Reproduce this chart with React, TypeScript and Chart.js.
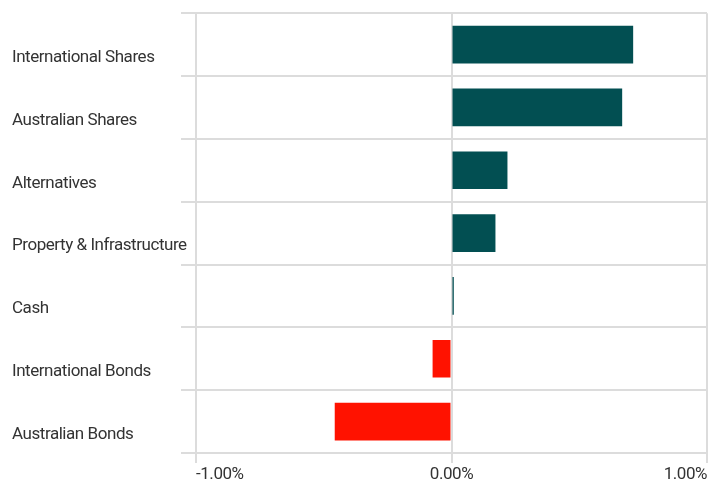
import React, { useEffect, useRef } from "react";
import { Chart, registerables } from "chart.js";

Chart.register(...registerables);

const categories = [
  "International Shares",
  "Australian Shares",
  "Alternatives",
  "Property & Infrastructure",
  "Cash",
  "International Bonds",
  "Australian Bonds",
];
const values = [0.711, 0.668, 0.219, 0.172, 0.009, -0.074, -0.457];
const xTicks = [-1, 0, 1];

const POS = "#024f52";
const NEG = "#ff1200";
const GRID = "#dcdcdc";
const FONT = "Roboto, 'Noto Sans', sans-serif";

const condense = {
  id: "condense",
  beforeDraw(chart: any) {
    chart.ctx.letterSpacing = "-0.45px";
  },
};

export default function App() {
  const ref = useRef<HTMLCanvasElement | null>(null);
  useEffect(() => {
    if (!ref.current) return;
    const chart = new Chart(ref.current, {
      type: "bar",
      data: {
        labels: categories,
        datasets: [
          {
            data: values,
            backgroundColor: values.map((v) => (v >= 0 ? POS : NEG)),
            barPercentage: 0.6,
            categoryPercentage: 1,
          },
        ],
      },
      plugins: [condense],
      options: {
        indexAxis: "y",
        animation: false,
        responsive: true,
        maintainAspectRatio: false,
        layout: { padding: { left: 12, right: 1, top: 12, bottom: 0 } },
        plugins: { legend: { display: false }, tooltip: { enabled: false } },
        scales: {
          x: {
            min: -1,
            max: 1,
            afterBuildTicks: (s: any) => {
              s.ticks = xTicks.map((v) => ({ value: v }));
            },
            afterFit: (s: any) => {
              s.height = 33;
            },
            grid: { color: GRID, lineWidth: 2, tickLength: 10 },
            border: { color: GRID, width: 2 },
            ticks: {
              align: "inner",
              color: "#333",
              padding: 2,
              font: { family: FONT, size: 17 },
              callback: (v: any) => Number(v).toFixed(2) + "%",
            },
          },
          y: {
            afterFit: (s: any) => {
              s.width = 184;
            },
            grid: { color: GRID, lineWidth: 2, tickLength: 15, offset: true },
            border: { color: GRID, width: 2 },
            ticks: {
              crossAlign: "far",
              labelOffset: 13,
              color: "#333",
              font: { family: FONT, size: 17 },
            },
          },
        },
      },
    });
    return () => chart.destroy();
  }, []);
  return (
    <div style={{ position: "absolute", left: 0, top: 0, width: 709, height: 486 }}>
      <canvas ref={ref} />
    </div>
  );
}
